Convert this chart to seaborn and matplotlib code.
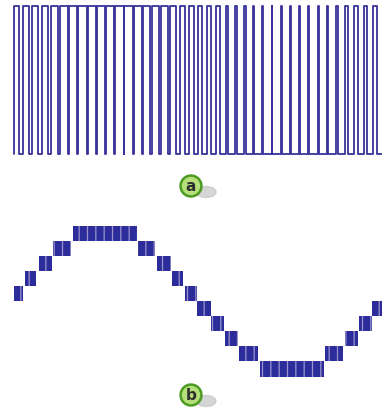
import matplotlib
matplotlib.use("Agg")
import matplotlib.pyplot as plt
import seaborn as sns
import numpy as np
import pandas as pd
from matplotlib.patches import Circle, Ellipse

# ---- data ----
# panel a: duty cycle of each PWM period (40 periods)
duty = [0.53, 0.60, 0.66, 0.72, 0.77, 0.82, 0.86, 0.89, 0.91, 0.92,
        0.92, 0.91, 0.89, 0.86, 0.82, 0.77, 0.72, 0.66, 0.60, 0.53,
        0.47, 0.40, 0.34, 0.28, 0.23, 0.18, 0.14, 0.11, 0.09, 0.08,
        0.08, 0.09, 0.11, 0.14, 0.18, 0.23, 0.28, 0.34, 0.40, 0.47]
# panel b: staircase blocks (start, end in periods; level)
block_start = [0.0, 1.2, 2.7, 4.2, 6.4, 13.5, 15.5, 17.2, 18.6, 19.9,
               21.4, 22.9, 24.5, 26.7, 33.8, 36.0, 37.5, 38.9]
block_end = [1.0, 2.4, 4.1, 6.2, 13.4, 15.3, 17.1, 18.4, 19.9, 21.4,
             22.8, 24.3, 26.5, 33.7, 35.8, 37.4, 38.9, 40.2]
block_level = [0, 1, 2, 3, 4, 3, 2, 1, 0, -1,
               -2, -3, -4, -5, -4, -3, -2, -1]
labels = ["a", "b"]

sns.set_theme(style="white")
plt.rcParams["hatch.linewidth"] = 0.9
W, H = 382, 412
fig = plt.figure(figsize=(W / 100, H / 100), dpi=100)
fig.patch.set_facecolor("white")

line_col = "#38329a"

# ---- panel a: PWM waveform ----
xs, ys = [], []
for i, d in enumerate(duty):
    xs += [i, i, i + d, i + d]
    ys += [0, 1, 1, 0]
xs.append(len(duty)); ys.append(0)
df = pd.DataFrame({"t": xs, "v": ys, "o": range(len(xs))})

ax_a = fig.add_axes([14 / W, 1 - 154 / H, 368 / W, 148 / H])
sns.lineplot(data=df, x="t", y="v", sort=False, estimator=None,
             color=line_col, lw=1.3, ax=ax_a)
for ln in ax_a.lines:
    ln.set_clip_on(False)
ax_a.set_xlim(0, len(duty))
ax_a.set_ylim(0, 1)
ax_a.axis("off")

# ---- panel b: stepped sine built from PWM blocks ----
ax_b = fig.add_axes([14 / W, 1 - 380 / H, 368 / W, 180 / H])
bdf = pd.DataFrame({"s": block_start, "e": block_end, "L": block_level})
ax_b.bar(bdf["s"], 1.0, width=bdf["e"] - bdf["s"], bottom=bdf["L"] - 0.5,
         align="edge", color="#2c2d9a", edgecolor="#9a93d0", linewidth=0,
         hatch="||")
ax_b.set_xlim(0, len(duty))
ax_b.set_ylim((293.5 - 380) / 15.1, (293.5 - 200) / 15.1)
ax_b.axis("off")

# ---- badges ----
ax_o = fig.add_axes([0, 0, 1, 1], zorder=5)
ax_o.set_xlim(0, W); ax_o.set_ylim(H, 0)
ax_o.axis("off")
ax_o.patch.set_alpha(0)
for lab, (cx, cy) in zip(labels, [(191, 186), (191, 395)]):
    ax_o.add_patch(Ellipse((cx + 15, cy + 6), 20, 11, color="#c4c4c4", alpha=0.7))
    ax_o.add_patch(Circle((cx, cy), 11, color="#4c9a22"))
    ax_o.add_patch(Circle((cx, cy), 8.5, color="#b5df78"))
    ax_o.text(cx, cy + 0.5, lab, ha="center", va="center", fontsize=11,
              fontweight="bold", color="#2e2e2e", family="DejaVu Sans")

fig.savefig("out.png", dpi=100, facecolor="white")
